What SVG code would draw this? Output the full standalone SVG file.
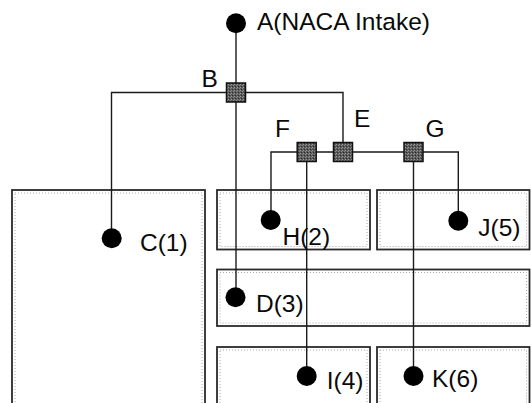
<svg xmlns="http://www.w3.org/2000/svg" width="531" height="403" viewBox="0 0 531 403">
  <defs>
    <style>
      .zone { fill: #ffffff; stroke: #2a2a2a; stroke-width: 1.8; }
      .zin { fill: none; stroke: #a8a8a8; stroke-width: 1; stroke-dasharray: 1 2; }
      .wire { fill: none; stroke: #1a1a1a; stroke-width: 1.4; }
      .dot { fill: #000000; }
      .junc { fill: url(#stip); stroke: #111111; stroke-width: 1.5; }
      .lbl { font-family: "Liberation Sans", Arial, sans-serif; font-size: 24.5px; fill: #0a0a0a; }
    </style>
    <pattern id="stip" width="3" height="3" patternUnits="userSpaceOnUse">
      <rect width="3" height="3" fill="#5a5a5a"/>
      <rect x="0" y="0" width="1" height="1" fill="#9a9a9a"/>
      <rect x="2" y="1" width="1" height="1" fill="#8a8a8a"/>
      <rect x="1" y="2" width="1" height="1" fill="#2a2a2a"/>
    </pattern>
  </defs>

  <rect width="531" height="403" fill="#ffffff"/>

  <g id="zones">
    <rect class="zone" x="12" y="190" width="193" height="225"/>
    <rect class="zin" x="15" y="193" width="187" height="222"/>
    <rect class="zone" x="217" y="190" width="153" height="59.5"/>
    <rect class="zin" x="220" y="193" width="147" height="53.5"/>
    <rect class="zone" x="377" y="190" width="152.5" height="59.5"/>
    <rect class="zin" x="380" y="193" width="146.5" height="53.5"/>
    <rect class="zone" x="217" y="269.5" width="312.5" height="56.5"/>
    <rect class="zin" x="220" y="272.5" width="306.5" height="50.5"/>
    <rect class="zone" x="217" y="347" width="153" height="70"/>
    <rect class="zin" x="220" y="350" width="147" height="67"/>
    <rect class="zone" x="377" y="347" width="152.5" height="70"/>
    <rect class="zin" x="380" y="350" width="146.5" height="67"/>
  </g>

  <g id="connectors">
    <path class="wire" d="M236 23 V297"/>
    <path class="wire" d="M111.5 238 V92.5 H343 V152"/>
    <path class="wire" d="M271 220 V152 H458.3 V220.7"/>
    <path class="wire" d="M306.7 152 V376"/>
    <path class="wire" d="M413.5 152 V376"/>
  </g>

  <g id="A">
    <circle class="dot" cx="236" cy="23.3" r="10"/>
    <text class="lbl" x="257" y="29.5">A(NACA Intake)</text>
  </g>
  <g id="B">
    <rect class="junc" x="226.5" y="83" width="19" height="19"/>
    <text class="lbl" x="201.5" y="87.3">B</text>
  </g>
  <g id="E">
    <rect class="junc" x="333.5" y="142.5" width="19" height="19"/>
    <text class="lbl" x="354" y="126.7">E</text>
  </g>
  <g id="F">
    <rect class="junc" x="297.2" y="142.5" width="19" height="19"/>
    <text class="lbl" x="275" y="136.7">F</text>
  </g>
  <g id="G">
    <rect class="junc" x="404" y="142.5" width="19" height="19"/>
    <text class="lbl" x="425.5" y="137.3">G</text>
  </g>
  <g id="C">
    <circle class="dot" cx="111.7" cy="238.3" r="10"/>
    <text class="lbl" x="140" y="251">C(1)</text>
  </g>
  <g id="H">
    <circle class="dot" cx="270.7" cy="220" r="10"/>
    <text class="lbl" x="282.5" y="245">H(2)</text>
  </g>
  <g id="J">
    <circle class="dot" cx="458.3" cy="220.7" r="10"/>
    <text class="lbl" x="478.3" y="236">J(5)</text>
  </g>
  <g id="D">
    <circle class="dot" cx="235.5" cy="297.3" r="10"/>
    <text class="lbl" x="256" y="312">D(3)</text>
  </g>
  <g id="I">
    <circle class="dot" cx="306.7" cy="376" r="10"/>
    <text class="lbl" x="326.7" y="389">I(4)</text>
  </g>
  <g id="K">
    <circle class="dot" cx="413.5" cy="376" r="10"/>
    <text class="lbl" x="432" y="387">K(6)</text>
  </g>
</svg>
